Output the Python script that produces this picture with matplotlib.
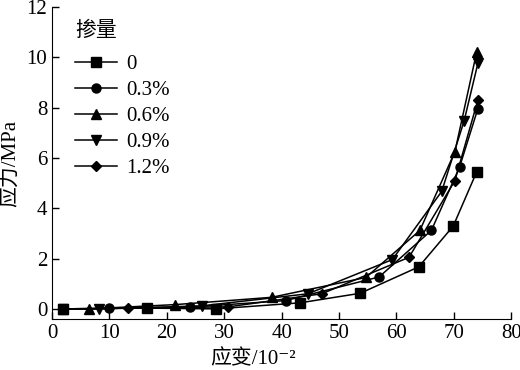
import matplotlib
matplotlib.use('Agg')
from matplotlib import pyplot as plt

plt.rcParams['font.family'] = ['Liberation Serif', 'Noto Sans CJK SC', 'DejaVu Serif']

# strain (10^-2) and stress (MPa), one pair of lists per dosage
x_0 = [1.9, 16.6, 28.6, 43.2, 53.7, 63.9, 69.9, 74.0]
y_0 = [0.0, 0.03, 0.0, 0.24, 0.62, 1.67, 3.29, 5.45]

x_03 = [1.9, 10.0, 24.1, 40.7, 57.0, 66.1, 71.0, 74.2]
y_03 = [0.0, 0.02, 0.07, 0.33, 1.27, 3.12, 5.63, 7.96]

x_06 = [1.9, 6.5, 21.5, 38.3, 54.7, 64.1, 70.2, 74.0]
y_06 = [0.0, 0.0, 0.17, 0.46, 1.25, 3.12, 6.25, 10.22]

x_09 = [1.9, 8.2, 26.1, 44.6, 59.3, 67.9, 71.8, 74.2]
y_09 = [0.0, 0.0, 0.12, 0.6, 1.96, 4.67, 7.47, 9.76]

x_12 = [1.9, 13.2, 30.7, 47.0, 62.2, 70.2, 74.2]
y_12 = [0.0, 0.03, 0.08, 0.6, 2.05, 5.1, 8.3]

labels = ['0', '0.3%', '0.6%', '0.9%', '1.2%']
markers = ['s', 'o', '^', 'v', 'D']
series = [(x_0, y_0), (x_03, y_03), (x_06, y_06), (x_09, y_09), (x_12, y_12)]

fig = plt.figure(figsize=(5.2, 3.7), dpi=100)
ax = fig.add_axes([0.1, 0.138, 0.883, 0.843])

for (xs, ys), lab, m in zip(series, labels, markers):
    ms = 5.5 if m == 'D' else 6.5
    ax.plot(xs, ys, color='black', linewidth=1.1, marker=m, markersize=ms, label=lab)

ax.set_xlim(0, 80)
ax.set_ylim(-0.4, 12)
ax.set_xticks(range(0, 81, 10))
ax.set_yticks(range(0, 13, 2))
ax.spines['top'].set_visible(False)
ax.spines['right'].set_visible(False)
ax.tick_params(direction='in', length=5, labelsize=15, width=1)
ax.set_xlabel('应变/10⁻²', fontsize=15, labelpad=2)
ax.xaxis.set_label_coords(0.437, -0.1)
ax.set_ylabel('应力/MPa', fontsize=15, labelpad=4)

# legend title drawn separately so the gap under it can be larger
ax.text(0.05, 0.908, '掺量', transform=ax.transAxes, fontsize=15)
leg = ax.legend(loc='upper left', frameon=False, fontsize=15,
                handlelength=2.0, handletextpad=0.45,
                labelspacing=0.31, bbox_to_anchor=(0.009, 0.908))

fig.savefig('out.png', dpi=100)
